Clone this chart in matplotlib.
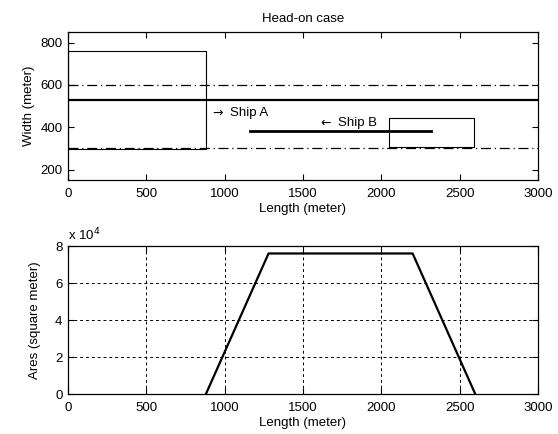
import numpy as np
import matplotlib.pyplot as plt

plt.rcParams['font.family'] = ['Liberation Sans', 'DejaVu Sans']
plt.rcParams['font.size'] = 9.5

# channel lines (meter)
channel_edges = [300, 600]
centre_line = 528
# ship domains: x0, x1, y0, y1
ship_a_box = [0, 880, 295, 760]
ship_b_box = [2050, 2590, 305, 445]
# ship B track
track_b_x = [1160, 2320]
track_b_y = [382, 382]

# overlap area curve
area_x = [880, 1280, 2200, 2600]
area_y = [0, 7.6e4, 7.6e4, 0]

fig = plt.figure(figsize=(5.58, 4.34), dpi=100)
ax1 = fig.add_axes([0.122, 0.585, 0.842, 0.341])
ax2 = fig.add_axes([0.122, 0.092, 0.842, 0.341])

for y in channel_edges:
    ax1.plot([0, 3000], [y, y], color='black', lw=0.9, linestyle='-.', dashes=(8, 3, 1, 3))
ax1.plot([0, 3000], [centre_line, centre_line], color='black', lw=1.6)
for b in (ship_a_box, ship_b_box):
    x0, x1, y0, y1 = b
    ax1.plot([x0, x1, x1, x0, x0], [y0, y0, y1, y1, y0], color='black', lw=0.8)
ax1.plot(track_b_x, track_b_y, color='black', lw=2)
ax1.text(920, 468, '\u2192', family='DejaVu Sans', fontsize=9, va='center')
ax1.text(1035, 468, 'Ship A', va='center')
ax1.text(1610, 420, '\u2190', family='DejaVu Sans', fontsize=9, va='center')
ax1.text(1725, 420, 'Ship B', va='center')
ax1.set_xlim(0, 3000)
ax1.set_ylim(150, 850)
ax1.set_xticks(np.arange(0, 3001, 500))
ax1.set_yticks([200, 400, 600, 800])
ax1.set_xlabel('Length (meter)', labelpad=2)
ax1.set_ylabel('Width (meter)', labelpad=4)
ax1.set_title('Head-on case', fontsize=9.5, pad=7)

ax2.plot(area_x, area_y, color='black', lw=1.6)
ax2.set_xlim(0, 3000)
ax2.set_ylim(0, 8e4)
ax2.set_xticks(np.arange(0, 3001, 500))
ax2.set_yticks([0, 2e4, 4e4, 6e4, 8e4])
ax2.set_yticklabels(['0', '2', '4', '6', '8'])
ax2.grid(True, color='black', linestyle=(0, (3, 3)), lw=0.7)
ax2.set_xlabel('Length (meter)', labelpad=2)
ax2.set_ylabel('Ares (square meter)', labelpad=10)
ax2.text(0.0, 1.02, 'x 10$^4$', transform=ax2.transAxes, va='bottom')

for ax in (ax1, ax2):
    ax.tick_params(direction='in', top=True, right=True, length=4, width=0.8)
    ax.tick_params(axis='x', pad=6)
    ax.tick_params(axis='y', pad=4)
    for s in ax.spines.values():
        s.set_linewidth(0.9)

fig.savefig('out.png', dpi=100)
